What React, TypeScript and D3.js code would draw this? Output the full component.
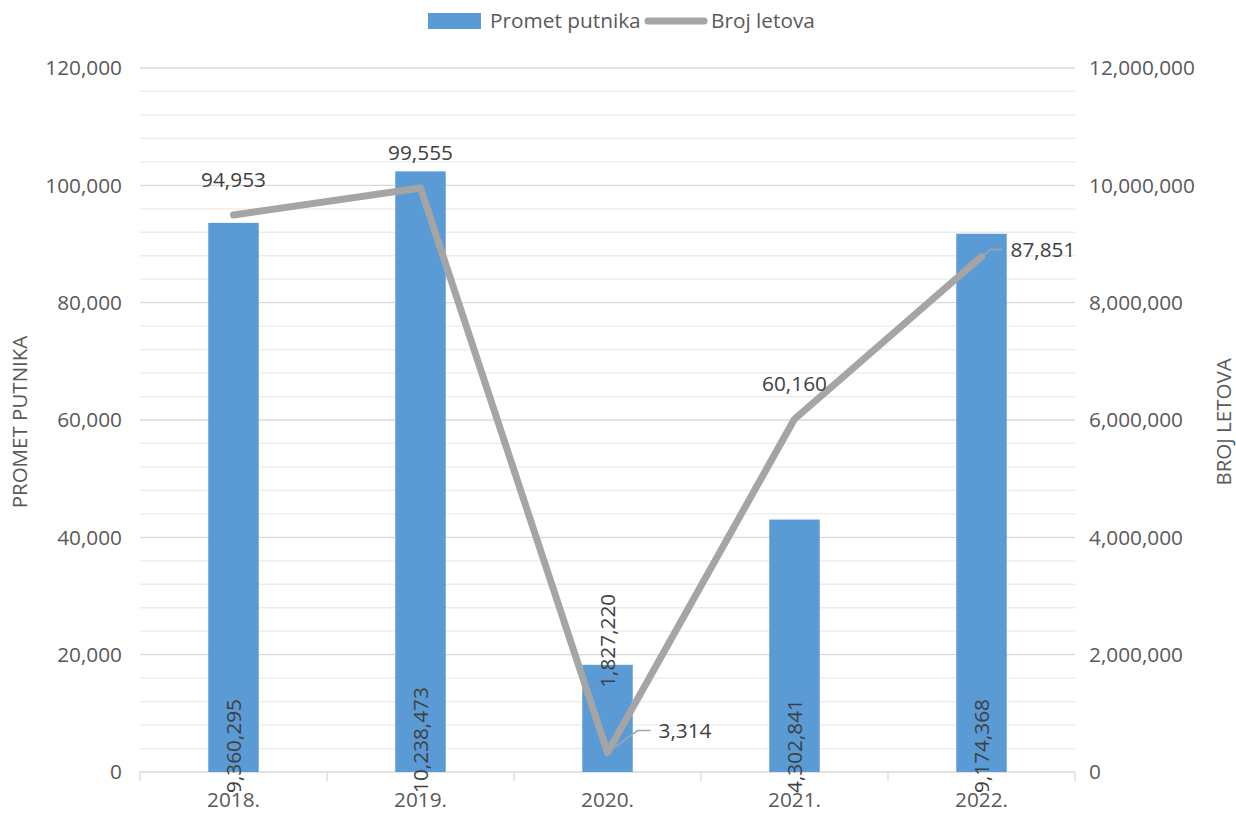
import React from "react";
import * as d3 from "d3";

const categories = ["2018.", "2019.", "2020.", "2021.", "2022."];
const prometPutnika = [9360295, 10238473, 1827220, 4302841, 9174368];
const brojLetova = [94953, 99555, 3314, 60160, 87851];
const leftTicks = [0, 20000, 40000, 60000, 80000, 100000, 120000];
const rightTicks = [0, 2000000, 4000000, 6000000, 8000000, 10000000, 12000000];
// bar label placement: "base" = inside base, "top" = straddling bar end
const barLabelMode = ["base", "base", "top", "base", "base"];
// line label placement: "above" or "right" (with leader line)
const lineLabelMode = ["above", "above", "right", "above", "right"];

const W = 1236;
const H = 813;
const M = { left: 140, right: 1075, top: 68, bottom: 772 };
const FONT = "'Open Sans', 'Segoe UI', sans-serif";
const FS = 20.8;
const BAR_COLOR = "#5B9BD5";
const LINE_COLOR = "#A5A5A5";
const TEXT_COLOR = "#595959";
const LABEL_COLOR = "#404040";

export default function App() {
  const x = d3.scaleBand<string>().domain(categories).range([M.left, M.right]).paddingInner(0).paddingOuter(0);
  const yL = d3.scaleLinear().domain([0, 120000]).range([M.bottom, M.top]);
  const yR = d3.scaleLinear().domain([0, 12000000]).range([M.bottom, M.top]);
  const fmt = d3.format(",");
  const bw = x.bandwidth() * 0.27;
  const cx = (c: string) => (x(c) as number) + x.bandwidth() / 2;

  const minorTicks = d3.range(0, 120001, 4000).filter((v) => v % 20000 !== 0);
  const line = d3
    .line<number>()
    .x((_, i) => cx(categories[i]))
    .y((d) => yL(d));

  const boundaries = categories.map((c) => x(c) as number).concat([M.right]);

  return (
    <svg
      width={W}
      height={H}
      style={{ position: "fixed", left: 0, top: 0, background: "#fff" }}
      fontFamily={FONT}
    >
      {/* minor gridlines */}
      {minorTicks.map((v) => (
        <line key={"m" + v} x1={M.left} x2={M.right} y1={yL(v)} y2={yL(v)} stroke="#EBEBEB" strokeWidth={1.3} />
      ))}
      {/* major gridlines */}
      {leftTicks.map((v) => (
        <line key={"g" + v} x1={M.left} x2={M.right} y1={yL(v)} y2={yL(v)} stroke="#D9D9D9" strokeWidth={1.3} />
      ))}
      {/* category axis ticks */}
      {boundaries.map((b, i) => (
        <line key={"t" + i} x1={b} x2={b} y1={M.bottom} y2={M.bottom + 9} stroke="#D9D9D9" strokeWidth={1.3} />
      ))}
      {/* bars */}
      {prometPutnika.map((v, i) => (
        <rect
          key={"b" + i}
          x={cx(categories[i]) - bw / 2}
          y={yR(v)}
          width={bw}
          height={yR(0) - yR(v)}
          fill={BAR_COLOR}
        />
      ))}
      {/* line */}
      <path
        d={line(brojLetova) || ""}
        fill="none"
        stroke={LINE_COLOR}
        strokeWidth={7}
        strokeLinejoin="round"
        strokeLinecap="round"
      />
      {/* left tick labels */}
      {leftTicks.map((v) => (
        <text key={"l" + v} x={122} y={yL(v)} dy="0.35em" textAnchor="end" fontSize={FS} fill={TEXT_COLOR}>
          {fmt(v)}
        </text>
      ))}
      {/* right tick labels */}
      {rightTicks.map((v) => (
        <text key={"r" + v} x={1089} y={yR(v)} dy="0.35em" textAnchor="start" fontSize={FS} fill={TEXT_COLOR}>
          {fmt(v)}
        </text>
      ))}
      {/* category labels */}
      {categories.map((c) => (
        <text key={"c" + c} x={cx(c)} y={807} textAnchor="middle" fontSize={FS} fill={TEXT_COLOR}>
          {c}
        </text>
      ))}
      {/* bar labels */}
      {prometPutnika.map((v, i) => {
        const px = cx(categories[i]);
        const base = barLabelMode[i] === "base";
        const py = base ? yR(0) + 21 : yR(v) + 23;
        return (
          <text
            key={"bl" + i}
            transform={`translate(${px},${py}) rotate(-90)`}
            dy="0.35em"
            textAnchor="start"
            fontSize={FS}
            fill={LABEL_COLOR}
          >
            {fmt(v)}
          </text>
        );
      })}
      {/* line labels */}
      {brojLetova.map((v, i) => {
        const px = cx(categories[i]);
        const py = yL(v);
        if (lineLabelMode[i] === "above") {
          return (
            <text key={"ll" + i} x={px} y={py - 28} textAnchor="middle" fontSize={FS} fill={LABEL_COLOR}>
              {fmt(v)}
            </text>
          );
        }
        const small = i === 4;
        const ex = small ? px + 9 : px + 30;
        const ey = small ? py - 7 : py - 22;
        const hx = small ? px + 21 : px + 43;
        return (
          <g key={"ll" + i}>
            <polyline
              points={`${px},${py} ${ex},${ey} ${hx},${ey}`}
              fill="none"
              stroke={LINE_COLOR}
              strokeWidth={1.5}
            />
            <text x={hx + 8} y={ey} dy="0.35em" textAnchor="start" fontSize={FS} fill={LABEL_COLOR}>
              {fmt(v)}
            </text>
          </g>
        );
      })}
      {/* axis titles */}
      <text
        transform={`translate(20,${(M.top + M.bottom) / 2 + 2}) rotate(-90)`}
        dy="0.35em"
        textAnchor="middle"
        fontSize={20.5}
        fill={TEXT_COLOR}
      >
        PROMET PUTNIKA
      </text>
      <text
        transform={`translate(1224,${(M.top + M.bottom) / 2 + 2}) rotate(-90)`}
        dy="0.35em"
        textAnchor="middle"
        fontSize={20.5}
        fill={TEXT_COLOR}
      >
        BROJ LETOVA
      </text>
      {/* legend */}
      <g>
        <rect x={428} y={13} width={53} height={16} fill={BAR_COLOR} />
        <text x={490} y={21} dy="0.35em" fontSize={FS} fill={TEXT_COLOR}>
          Promet putnika
        </text>
        <line x1={648} x2={704} y1={21} y2={21} stroke={LINE_COLOR} strokeWidth={7} strokeLinecap="round" />
        <text x={711} y={21} dy="0.35em" fontSize={FS} fill={TEXT_COLOR}>
          Broj letova
        </text>
      </g>
    </svg>
  );
}
